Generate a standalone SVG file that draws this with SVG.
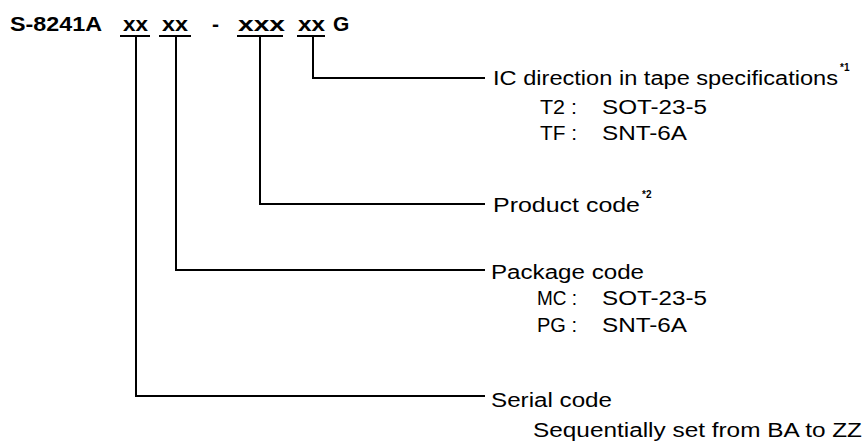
<svg xmlns="http://www.w3.org/2000/svg" width="865" height="448" viewBox="0 0 865 448">
<style>
text{font-family:"Liberation Sans",Arial,sans-serif;fill:#000}
.h{font-weight:bold;font-size:21px}
.t{font-size:19.5px}
.sup{font-weight:bold;font-size:10px}
.ln{stroke:#000;stroke-width:2;fill:none}
</style>
<rect width="865" height="448" fill="#fff"/>
<g id="header">
<text class="h" x="10" y="31" textLength="92" lengthAdjust="spacingAndGlyphs">S-8241A</text>
<text class="h" x="123" y="31" textLength="25" lengthAdjust="spacingAndGlyphs">xx</text>
<text class="h" x="162" y="31" textLength="26" lengthAdjust="spacingAndGlyphs">xx</text>
<text class="h" x="212" y="31">-</text>
<text class="h" x="238" y="31" textLength="47" lengthAdjust="spacingAndGlyphs">xxx</text>
<text class="h" x="298" y="31" textLength="27" lengthAdjust="spacingAndGlyphs">xx</text>
<text class="h" x="333" y="31">G</text>
</g>
<g id="connectors" class="ln">
<path d="M120 36H150M159 36H191M237 36H283M297 36H325"/>
<path d="M313 36V78H485"/>
<path d="M260 36V204H485"/>
<path d="M176 36V270H485"/>
<path d="M136 36V396H485"/>
</g>
<g id="ic-direction">
<text class="t" x="493" y="85" textLength="345" lengthAdjust="spacingAndGlyphs">IC direction in tape specifications</text>
<text class="sup" x="840" y="71">*1</text>
<text class="t" y="114"><tspan x="540" textLength="37" lengthAdjust="spacingAndGlyphs">T2 :</tspan><tspan x="602" textLength="105" lengthAdjust="spacingAndGlyphs">SOT-23-5</tspan></text>
<text class="t" y="140"><tspan x="540" textLength="37" lengthAdjust="spacingAndGlyphs">TF :</tspan><tspan x="602" textLength="85" lengthAdjust="spacingAndGlyphs">SNT-6A</tspan></text>
</g>
<g id="product-code">
<text class="t" x="493" y="212" textLength="147" lengthAdjust="spacingAndGlyphs">Product code</text>
<text class="sup" x="642" y="198">*2</text>
</g>
<g id="package-code">
<text class="t" x="491" y="279" textLength="153" lengthAdjust="spacingAndGlyphs">Package code</text>
<text class="t" y="305"><tspan x="537" textLength="40" lengthAdjust="spacingAndGlyphs">MC :</tspan><tspan x="602" textLength="105" lengthAdjust="spacingAndGlyphs">SOT-23-5</tspan></text>
<text class="t" y="332"><tspan x="537" textLength="40" lengthAdjust="spacingAndGlyphs">PG :</tspan><tspan x="602" textLength="85" lengthAdjust="spacingAndGlyphs">SNT-6A</tspan></text>
</g>
<g id="serial-code">
<text class="t" x="491" y="407" textLength="121" lengthAdjust="spacingAndGlyphs">Serial code</text>
<text class="t" x="533" y="437" textLength="329" lengthAdjust="spacingAndGlyphs">Sequentially set from BA to ZZ</text>
</g>
</svg>
